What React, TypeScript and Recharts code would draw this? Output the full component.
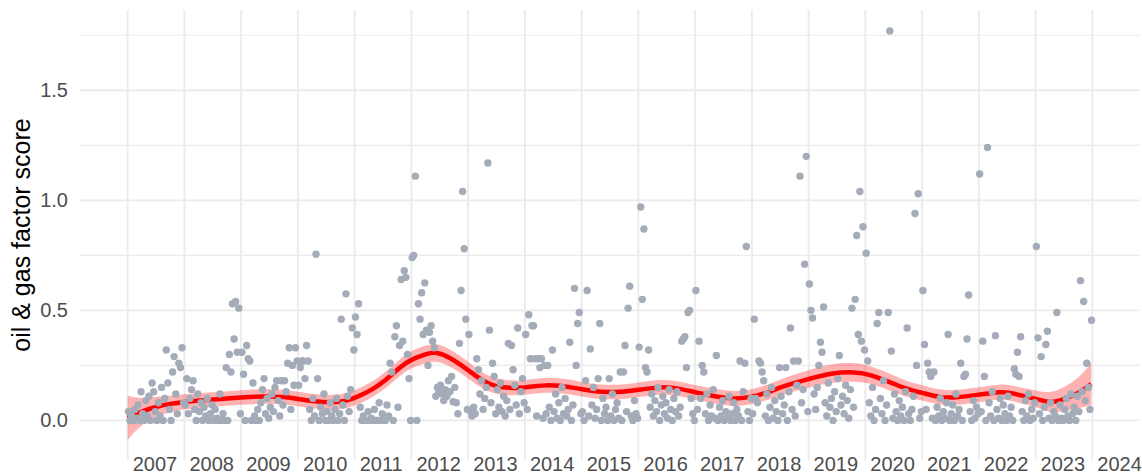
import {
  ComposedChart,
  Scatter,
  Area,
  Line,
  XAxis,
  YAxis,
  CartesianGrid,
} from 'recharts';

// year axis (gridline at Jan 1 of each year)
const years = [
  2007, 2008, 2009, 2010, 2011, 2012, 2013, 2014, 2015, 2016, 2017, 2018, 2019,
  2020, 2021, 2022, 2023, 2024,
];
const majorY = [0, 0.5, 1, 1.5];
const minorY = [0.25, 0.75, 1.25, 1.75];

// factor scores, in date order inside each year
const scores2007 = [0.04, 0.0, 0.02, 0.0, 0.05, 0.01, 0.07, 0.0, 0.13, 0.03, 0.0, 0.09, 0.02, 0.11, 0.0, 0.17, 0.13, 0.04, 0.0, 0.08, 0.02, 0.15, 0.0, 0.1, 0.32, 0.17, 0.05, 0.0, 0.22, 0.29, 0.12, 0.03, 0.26, 0.24, 0.33, 0.08];
const scores2008 = [0.07, 0.19, 0.03, 0.1, 0.14, 0.18, 0.05, 0.0, 0.12, 0.04, 0.08, 0.0, 0.06, 0.02, 0.1, 0.0, 0.03, 0.07, 0.0, 0.05, 0.01, 0.0, 0.12, 0.0, 0.03, 0.0, 0.24, 0.0, 0.3, 0.22, 0.53, 0.37, 0.54, 0.31, 0.51, 0.03];
const scores2009 = [0.31, 0.21, 0.0, 0.34, 0.28, 0.27, 0.0, 0.17, 0.02, 0.0, 0.05, 0.0, 0.08, 0.14, 0.19, 0.03, 0.1, 0.01, 0.06, 0.12, 0.04, 0.15, 0.18, 0.09, 0.02, 0.18, 0.07, 0.18, 0.13, 0.26, 0.33, 0.05, 0.25, 0.16, 0.33, 0.27];
const scores2010 = [0.16, 0.24, 0.27, 0.27, 0.19, 0.34, 0.27, 0.05, 0.0, 0.1, 0.02, 0.755, 0.19, 0.0, 0.06, 0.03, 0.12, 0.0, 0.04, 0.0, 0.08, 0.02, 0.0, 0.05, 0.1, 0.0, 0.03, 0.46, 0.07, 0.0, 0.575, 0.11, 0.04, 0.14, 0.42, 0.32];
const scores2011 = [0.47, 0.39, 0.53, 0.06, 0.0, 0.02, 0.0, 0.0, 0.04, 0.0, 0.01, 0.0, 0.05, 0.0, 0.0, 0.08, 0.0, 0.03, 0.0, 0.0, 0.07, 0.02, 0.26, 0.22, 0.0, 0.38, 0.43, 0.06, 0.34, 0.64, 0.36, 0.68, 0.65, 0.3, 0.19, 0.0];
const scores2012 = [0.74, 0.75, 1.11, 0.0, 0.53, 0.46, 0.58, 0.39, 0.625, 0.41, 0.25, 0.4, 0.43, 0.36, 0.33, 0.11, 0.15, 0.13, 0.16, 0.12, 0.09, 0.14, 0.11, 0.18, 0.13, 0.2, 0.085, 0.15, 0.08, 0.03, 0.35, 0.59, 1.04, 0.78, 0.46, 0.05];
const scores2013 = [0.39, 0.04, 0.02, 0.06, 0.03, 0.28, 0.23, 0.12, 0.18, 0.05, 0.1, 0.15, 1.17, 0.41, 0.08, 0.26, 0.2, 0.03, 0.14, 0.06, 0.17, 0.04, 0.11, 0.02, 0.09, 0.35, 0.05, 0.34, 0.23, 0.16, 0.07, 0.42, 0.03, 0.13, 0.19, 0.08];
const scores2014 = [0.39, 0.05, 0.48, 0.28, 0.43, 0.43, 0.28, 0.02, 0.28, 0.24, 0.28, 0.01, 0.25, 0.03, 0.25, 0.06, 0.0, 0.32, 0.04, 0.12, 0.01, 0.08, 0.0, 0.15, 0.03, 0.1, 0.02, 0.05, 0.355, 0.0, 0.07, 0.6, 0.25, 0.44, 0.49, 0.03];
const scores2015 = [0.04, 0.0, 0.18, 0.59, 0.02, 0.325, 0.07, 0.15, 0.01, 0.05, 0.19, 0.44, 0.0, 0.1, 0.03, 0.06, 0.0, 0.19, 0.02, 0.12, 0.0, 0.05, 0.08, 0.01, 0.22, 0.0, 0.22, 0.34, 0.04, 0.51, 0.61, 0.02, 0.0, 0.09, 0.03, 0.01];
const scores2016 = [0.333, 0.97, 0.55, 0.87, 0.24, 0.22, 0.32, 0.06, 0.12, 0.02, 0.09, 0.04, 0.15, 0.0, 0.07, 0.11, 0.03, 0.08, 0.01, 0.14, 0.05, 0.0, 0.1, 0.04, 0.13, 0.02, 0.06, 0.36, 0.37, 0.38, 0.24, 0.49, 0.5, 0.1, 0.03, 0.0];
const scores2017 = [0.59, 0.05, 0.36, 0.1, 0.25, 0.22, 0.03, 0.12, 0.0, 0.07, 0.02, 0.14, 0.01, 0.295, 0.0, 0.06, 0.02, 0.09, 0.0, 0.04, 0.01, 0.11, 0.0, 0.03, 0.08, 0.0, 0.05, 0.02, 0.27, 0.0, 0.13, 0.26, 0.79, 0.04, 0.0, 0.1];
const scores2018 = [0.03, 0.46, 0.1, 0.08, 0.27, 0.26, 0.22, 0.18, 0.02, 0.12, 0.0, 0.06, 0.15, 0.01, 0.09, 0.04, 0.0, 0.24, 0.11, 0.03, 0.07, 0.24, 0.0, 0.13, 0.42, 0.05, 0.27, 0.02, 0.16, 0.27, 1.11, 0.08, 0.14, 0.71, 1.2, 0.04];
const scores2019 = [0.62, 0.5, 0.465, 0.12, 0.05, 0.15, 0.25, 0.355, 0.31, 0.515, 0.08, 0.02, 0.17, 0.06, 0.1, 0.0, 0.13, 0.04, 0.19, 0.295, 0.07, 0.11, 0.03, 0.16, 0.09, 0.01, 0.14, 0.51, 0.06, 0.55, 0.84, 0.39, 1.04, 0.36, 0.88, 0.32];
const scores2020 = [0.76, 0.27, 0.08, 0.02, 0.15, 0.0, 0.05, 0.44, 0.49, 0.1, 0.03, 0.18, 0.0, 0.07, 0.49, 1.77, 0.315, 0.01, 0.12, 0.04, 0.0, 0.09, 0.02, 0.06, 0.0, 0.13, 0.42, 0.03, 0.0, 0.05, 0.11, 0.94, 0.25, 1.03, 0.01, 0.04];
const scores2021 = [0.59, 0.345, 0.05, 0.26, 0.22, 0.2, 0.01, 0.22, 0.0, 0.06, 0.02, 0.1, 0.0, 0.04, 0.01, 0.08, 0.39, 0.0, 0.03, 0.07, 0.0, 0.12, 0.02, 0.05, 0.26, 0.0, 0.2, 0.21, 0.37, 0.57, 0.04, 0.0, 0.09, 0.01, 0.06, 0.03];
const scores2022 = [1.12, 0.04, 0.36, 0.2, 0.0, 1.24, 0.08, 0.02, 0.13, 0.0, 0.385, 0.05, 0.01, 0.1, 0.0, 0.07, 0.03, 0.0, 0.11, 0.02, 0.06, 0.0, 0.235, 0.21, 0.31, 0.2, 0.38, 0.04, 0.0, 0.09, 0.02, 0.12, 0.0, 0.05, 0.01, 0.08];
const scores2023 = [0.79, 0.375, 0.03, 0.29, 0.0, 0.06, 0.345, 0.405, 0.01, 0.08, 0.0, 0.04, 0.02, 0.49, 0.0, 0.07, 0.01, 0.0, 0.05, 0.1, 0.02, 0.0, 0.12, 0.03, 0.06, 0.0, 0.11, 0.04, 0.635, 0.13, 0.54, 0.09, 0.26, 0.15, 0.05, 0.455];

const yearlyScores = [
  scores2007, scores2008, scores2009, scores2010, scores2011, scores2012,
  scores2013, scores2014, scores2015, scores2016, scores2017, scores2018,
  scores2019, scores2020, scores2021, scores2022, scores2023,
];

// loess fit and its confidence half-width
const fitX = [2007.0, 2007.25, 2007.5, 2007.75, 2008.0, 2008.5, 2009.0, 2009.4, 2009.75, 2010.0, 2010.3, 2010.6, 2010.85, 2011.05, 2011.3, 2011.55, 2011.8, 2012.0, 2012.25, 2012.45, 2012.7, 2013.0, 2013.25, 2013.5, 2013.75, 2014.0, 2014.3, 2014.6, 2015.0, 2015.35, 2015.7, 2016.0, 2016.4, 2016.75, 2017.0, 2017.35, 2017.7, 2018.0, 2018.3, 2018.6, 2019.0, 2019.4, 2019.8, 2020.1, 2020.45, 2020.75, 2021.0, 2021.3, 2021.6, 2022.0, 2022.35, 2022.6, 2023.0, 2023.27, 2023.5, 2023.75, 2023.98];
const fitY = [0.012, 0.04, 0.061, 0.075, 0.084, 0.095, 0.104, 0.109, 0.106, 0.097, 0.087, 0.083, 0.09, 0.108, 0.14, 0.185, 0.24, 0.275, 0.3, 0.306, 0.28, 0.228, 0.183, 0.156, 0.148, 0.15, 0.158, 0.157, 0.142, 0.13, 0.13, 0.139, 0.15, 0.142, 0.128, 0.11, 0.1, 0.108, 0.13, 0.158, 0.188, 0.212, 0.218, 0.205, 0.172, 0.142, 0.125, 0.107, 0.105, 0.117, 0.128, 0.122, 0.098, 0.084, 0.097, 0.125, 0.165];
const fitSe = [0.1, 0.062, 0.046, 0.038, 0.035, 0.033, 0.033, 0.033, 0.033, 0.033, 0.033, 0.033, 0.034, 0.035, 0.036, 0.037, 0.038, 0.039, 0.04, 0.04, 0.039, 0.038, 0.036, 0.035, 0.034, 0.034, 0.034, 0.034, 0.033, 0.033, 0.033, 0.033, 0.033, 0.033, 0.033, 0.034, 0.034, 0.034, 0.035, 0.037, 0.04, 0.042, 0.042, 0.04, 0.038, 0.036, 0.035, 0.034, 0.034, 0.034, 0.034, 0.035, 0.038, 0.046, 0.055, 0.07, 0.095];

const points = yearlyScores.flatMap((vals, yi) =>
  vals.map((y, i) => ({ x: years[yi] + (i + 0.5) / vals.length, y }))
);

const fitRows = fitX.map((x, i) => ({
  x,
  fit: fitY[i],
  band: [fitY[i] - fitSe[i], fitY[i] + fitSe[i]],
}));

const FONT = '"Liberation Sans", Arial, Helvetica, sans-serif';

const YearTick = ({ x, y, payload }: any) => (
  <text x={x + 5} y={y + 11} textAnchor="start" fill="#4d4d4d" fontSize={20} fontFamily={FONT}>
    {payload.value}
  </text>
);

const Dot = (props: any) => <circle cx={props.cx} cy={props.cy} r={3.7} fill="#a3acb8" />;

export default function App() {
  return (
    <div style={{ position: 'relative', width: 1142, height: 476, fontFamily: FONT, background: '#fff' }}>
      <style>{'body{margin:0}'}</style>
      <ComposedChart
        width={1142}
        height={476}
        data={fitRows}
        margin={{ top: 10, right: 2, bottom: 0, left: 0 }}
      >
        <CartesianGrid stroke="#ebebeb" strokeWidth={1.1} vertical={false} horizontalValues={minorY} />
        <CartesianGrid stroke="#ebebeb" strokeWidth={1.9} verticalValues={years} horizontalValues={majorY} />
        <XAxis
          type="number"
          dataKey="x"
          domain={[2006.16, 2024.84]}
          ticks={years}
          interval={0}
          allowDataOverflow
          axisLine={false}
          tickLine={false}
          tickSize={0}
          tickMargin={0}
          height={16}
          tick={<YearTick />}
        />
        <YAxis
          type="number"
          domain={[-0.18, 1.865]}
          ticks={majorY}
          interval={0}
          allowDataOverflow
          width={80}
          axisLine={false}
          tickLine={false}
          tickSize={0}
          tickMargin={12}
          tick={{ fill: '#4d4d4d', fontSize: 20, fontFamily: FONT }}
          tickFormatter={(v: number) => v.toFixed(1)}
        />
        <Scatter data={points} dataKey="y" shape={Dot} isAnimationActive={false} />
        <Area
          dataKey="band"
          type="natural"
          stroke="none"
          fill="#ff0000"
          fillOpacity={0.3}
          activeDot={false}
          isAnimationActive={false}
        />
        <Line
          dataKey="fit"
          type="natural"
          stroke="#ff0000"
          strokeWidth={4.5}
          dot={false}
          activeDot={false}
          isAnimationActive={false}
        />
      </ComposedChart>
      <svg
        width={60}
        height={476}
        style={{ position: 'absolute', left: 0, top: 0, pointerEvents: 'none' }}
      >
        <text
          transform="rotate(-90)"
          x={-235}
          y={30}
          textAnchor="middle"
          fontSize={25}
          fill="#000"
          fontFamily={FONT}
        >
          oil &amp; gas factor score
        </text>
      </svg>
    </div>
  );
}
